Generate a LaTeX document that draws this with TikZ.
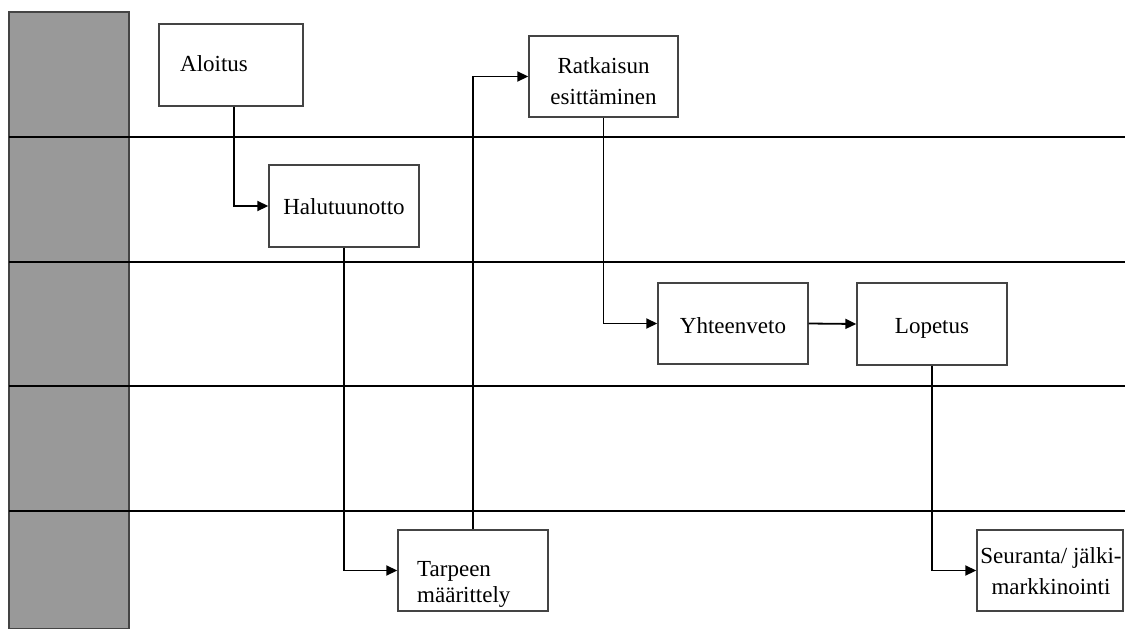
\documentclass[tikz,border=0pt]{standalone}
\usepackage{fontspec}
\setmainfont{Liberation Serif}
\usetikzlibrary{arrows.meta}
\definecolor{barcol}{HTML}{999999}
\definecolor{edgecol}{HTML}{444444}
\begin{document}
\begin{tikzpicture}[x=1pt,y=-1pt,
  box/.style={draw=edgecol, line width=1.4pt, inner sep=0pt, fill=white, minimum width=150pt, minimum height=81pt},
  txt/.style={inner sep=0pt, font=\fontsize{23}{31}\selectfont},
  lane/.style={line width=2.5pt, black},
  flow/.style={line width=1.8pt, black, -{Triangle[length=11pt,width=10pt]}}]
\useasboundingbox (0,0) rectangle (1125,629);
% left bar
\draw[fill=barcol, draw=edgecol, line width=1.5pt] (9,12) rectangle (129,629);
% lanes
\draw[lane] (9,137) -- (1125,137);
\draw[lane] (9,262) -- (1125,262);
\draw[lane] (9,386) -- (1125,386);
\draw[lane] (9,511) -- (1125,511);
% boxes
\node[box, minimum width=144pt, minimum height=82pt] (aloitus) at (231,65) {};
\node[box, minimum height=82pt] (halu) at (344,206) {};
\node[box, minimum width=149pt] (ratk) at (603.5,76.5) {};
\node[box] (yht) at (733,323.5) {};
\node[box, minimum height=82pt] (lop) at (932,324) {};
\node[box] (tarp) at (473,570.5) {};
\node[box, minimum width=146pt] (seur) at (1050,570.5) {};
% connectors
\draw[flow] ([xshift=3pt]aloitus.south) |- (halu.west);
\draw[flow] (halu.south) |- (tarp.west);
\draw[flow] (tarp.north) |- (ratk.west);
\draw[flow] (ratk.south) |- (yht.west);
\draw[flow] (yht.east) -- (lop.west);
\draw[flow] (lop.south) |- (seur.west);
% texts
\node[txt, anchor=base west] (t1) at (180,71) {Aloitus};
\node[txt, anchor=base] (t2) at (344,214) {Halutuunotto};
\node[txt, anchor=north, align=center] (t3) at (603.5,57.3) {Ratkaisun\\esittäminen};
\node[txt, anchor=base] (t4) at (733,333) {Yhteenveto};
\node[txt, anchor=base] (t5) at (932,333) {Lopetus};
\node[txt, anchor=north west, align=left, font=\fontsize{23}{26}\selectfont] (t6) at (417,560.8) {Tarpeen\\määrittely};
\node[txt, anchor=north, align=center] (t7) at (1051,547.3) {Seuranta/ jälki-\\markkinointi};
\end{tikzpicture}
\end{document}
